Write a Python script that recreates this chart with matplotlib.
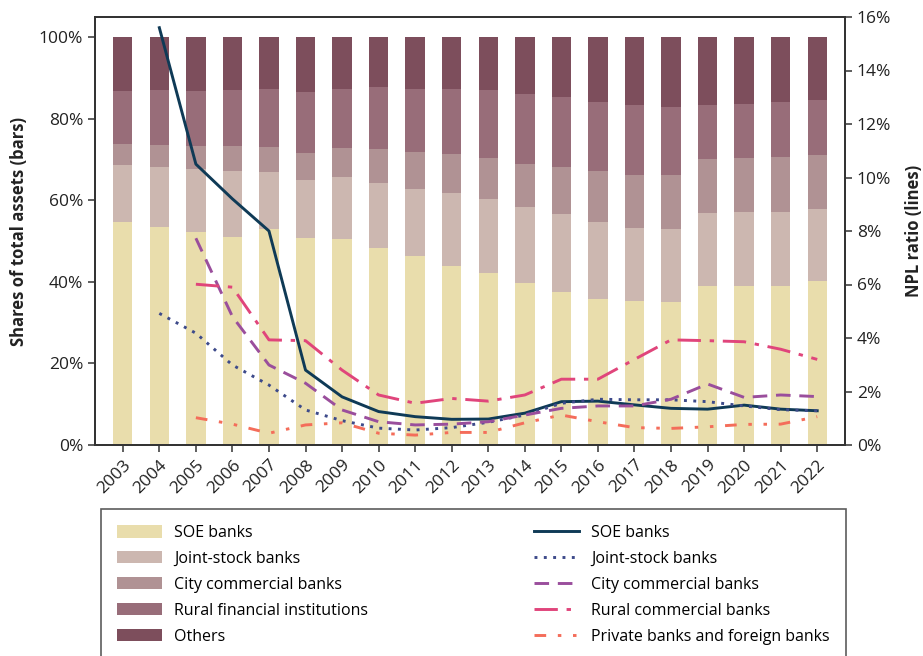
import numpy as np
import matplotlib
matplotlib.use("Agg")
import matplotlib.pyplot as plt
from matplotlib.lines import Line2D
from matplotlib.patches import Patch
from matplotlib.ticker import PercentFormatter

plt.rcParams['font.family'] = ['Open Sans', 'DejaVu Sans']

years = list(range(2003, 2023))

# cumulative bar tops (% of total assets)
soe_top = [54.7, 53.4, 52.2, 51.0, 52.9, 50.7, 50.5, 48.3, 46.3, 43.9,
           42.2, 39.7, 37.5, 35.8, 35.3, 35.0, 39.0, 39.0, 39.0, 40.2]
js_top = [68.6, 68.1, 67.6, 67.2, 66.9, 65.0, 65.7, 64.2, 62.7, 61.8,
          60.3, 58.3, 56.6, 54.7, 53.2, 52.9, 56.9, 57.1, 57.1, 57.8]
city_top = [73.8, 73.5, 73.3, 73.3, 73.0, 71.6, 72.8, 72.5, 71.8, 71.3,
            70.3, 68.9, 68.1, 67.2, 66.2, 66.2, 70.1, 70.3, 70.6, 71.1]
rural_top = [86.8, 87.0, 86.8, 87.0, 87.3, 86.5, 87.3, 87.7, 87.3, 87.3,
             87.0, 86.0, 85.3, 84.1, 83.3, 82.8, 83.3, 83.6, 84.1, 84.6]
total_top = [100.0] * 20

bar_labels = ['SOE banks', 'Joint-stock banks', 'City commercial banks',
              'Rural financial institutions', 'Others']
bar_colors = ['#E9DDAC', '#CCB7B0', '#B09294', '#986D79', '#7D4E5C']

# NPL ratios (%)
npl_soe = [np.nan, 15.6, 10.5, 9.2, 8.0, 2.8, 1.8, 1.25, 1.06, 0.96,
           0.97, 1.19, 1.62, 1.64, 1.5, 1.37, 1.34, 1.49, 1.34, 1.28]
npl_js = [np.nan, 4.92, 4.18, 2.99, 2.24, 1.31, 0.91, 0.63, 0.56, 0.65,
          0.85, 1.12, 1.56, 1.71, 1.69, 1.69, 1.62, 1.46, 1.32, 1.28]
npl_city = [np.nan, np.nan, 7.73, 4.80, 2.99, 2.31, 1.31, 0.87, 0.75, 0.78,
            0.87, 1.12, 1.37, 1.46, 1.46, 1.71, 2.28, 1.78, 1.87, 1.81]
npl_rural = [np.nan, np.nan, 6.01, 5.9, 3.93, 3.9, 2.8, 1.87, 1.56, 1.74,
             1.64, 1.87, 2.46, 2.46, 3.2, 3.93, 3.9, 3.86, 3.58, 3.2]
npl_private = [np.nan, np.nan, 1.02, 0.78, 0.44, 0.75, 0.83, 0.44, 0.37, 0.47,
               0.47, 0.83, 1.12, 0.87, 0.65, 0.62, 0.68, 0.77, 0.78, 1.06]

line_labels = ['SOE banks', 'Joint-stock banks', 'City commercial banks',
               'Rural commercial banks', 'Private banks and foreign banks']
line_colors = ['#0F3A56', '#3D4A8A', '#9A4E9C', '#E0457B', '#F46D5A']
line_styles = ['-', (0, (1, 2.2)), (0, (5, 3)), (0, (8, 3, 1.5, 3)),
               (0, (4, 4, 1.2, 4, 1.2, 4))]
npl_series = [npl_soe, npl_js, npl_city, npl_rural, npl_private]

fig = plt.figure(figsize=(9.23, 6.56), dpi=100)
ax = fig.add_axes([95 / 923, 1 - 445 / 656, 750 / 923, 428 / 656])
ax2 = ax.twinx()

# stacked bars from cumulative tops
tops = [soe_top, js_top, city_top, rural_top, total_top]
prev = [0.0] * 20
handles = []
for t, c, lab in zip(tops, bar_colors, bar_labels):
    h = [a - b for a, b in zip(t, prev)]
    ax.bar(years, h, bottom=prev, width=0.53, color=c, linewidth=0)
    handles.append(Patch(facecolor=c, label=lab))
    prev = t

line_handles = []
for s, c, st in zip(npl_series, line_colors, line_styles):
    ax2.plot(years, s, color=c, lw=2.1, ls=st)
    line_handles.append(Line2D([], [], color=c, lw=2.1, ls=st))

ax.set_xlim(2003 - 0.76, 2022 + 0.76)
ax.set_ylim(0, 104.9)
ax2.set_ylim(0, 16)
ax.set_yticks([0, 20, 40, 60, 80, 100])
ax2.set_yticks(range(0, 17, 2))
ax.yaxis.set_major_formatter(PercentFormatter(decimals=0))
ax2.yaxis.set_major_formatter(PercentFormatter(decimals=0))
ax.set_xticks(years)
ax.set_xticklabels([str(y) for y in years], rotation=45, ha='right',
                   rotation_mode='anchor')

for a in (ax, ax2):
    for s in a.spines.values():
        s.set_color('#333333')
        s.set_linewidth(1.3)
    a.tick_params(direction='out', length=5, width=1.1, colors='#333333',
                  labelsize=12.5, labelcolor='#222222')

ax.set_ylabel('Shares of total assets (bars)', fontsize=12, fontweight='bold',
              color='#222222', labelpad=8)
ax2.set_ylabel('NPL ratio (lines)', fontsize=12, fontweight='bold',
               color='#222222', labelpad=10)

leg_handles = handles + line_handles
leg_labels = bar_labels + line_labels
leg = fig.legend(leg_handles, leg_labels, ncol=2, loc='upper left',
                 bbox_to_anchor=(101 / 923, 1 - 509 / 656, 745 / 923, 0),
                 mode='expand', fontsize=11.5, frameon=True, fancybox=False,
                 edgecolor='#333333', handlelength=2.8, handleheight=0.8,
                 handletextpad=0.8, labelspacing=0.62, borderpad=1.0,
                 borderaxespad=0)
leg.get_frame().set_linewidth(1.2)

fig.savefig('out.png', dpi=100)
